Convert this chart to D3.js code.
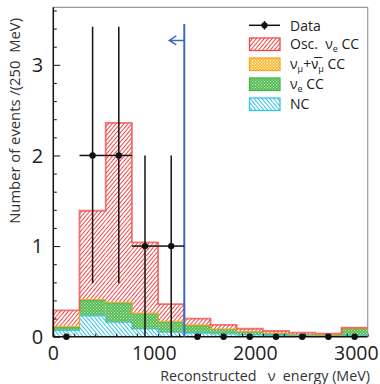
<!DOCTYPE html>
<html>
<head>
<meta charset="utf-8">
<script src="https://cdn.jsdelivr.net/npm/d3@7"></script>
<style>
  body { margin: 0; background: #fff; }
  svg { display: block; font-family: "Open Sans", sans-serif; }
</style>
</head>
<body>
<svg id="chart" width="380" height="384"></svg>
<script>
// bin lower edges (MeV), 250 MeV wide
const binEdges = [0, 250, 500, 750, 1000, 1250, 1500, 1750, 2000, 2250, 2500, 2750];
const binWidth = 250;
// stacked MC components, bottom to top
const ncValues    = [0.07, 0.23, 0.16, 0.085, 0.05, 0.04, 0.03, 0.02, 0.015, 0.01, 0.01, 0.01];
const veCCValues  = [0.03, 0.17, 0.21, 0.165, 0.11, 0.08, 0.05, 0.03, 0.02, 0.015, 0.008, 0.078];
const numuValues  = [0.015, 0.01, 0.01, 0.01, 0.01, 0.01, 0.005, 0.005, 0.003, 0.002, 0.002, 0.005];
const oscValues   = [0.175, 0.98, 1.98, 0.78, 0.19, 0.07, 0.045, 0.033, 0.025, 0.018, 0.015, 0.007];
// observed data with asymmetric errors
const dataCounts  = [0, 2, 2, 1, 1, 0, 0, 0, 0, 0, 0, 0];
const dataLow     = [0, 0.59, 0.59, 0, 0, 0, 0, 0, 0, 0, 0, 0];
const dataHigh    = [0, 3.42, 3.42, 2, 2, 0, 0, 0, 0, 0, 0, 0];
const xTicks = [0, 1000, 2000, 3000];
const yTicks = [0, 1, 2, 3];
const cutEnergy = 1250;

const layers = [
  {key: "nc", fill: "url(#hatchCyan)", line: "#35c3e6"},
  {key: "veCC", fill: "url(#dotGreen)", line: "#47b547"},
  {key: "numu", fill: "url(#dotOrange)", line: "#f5a623"},
  {key: "osc", fill: "url(#hatchRed)", line: "#f04848"}
];

const svg = d3.select("#chart");
const margin = {top: 7.3, right: 12.3, bottom: 47.3, left: 53.3};
const W = 380, H = 384;

const x = d3.scaleLinear().domain([0, 3000]).range([margin.left, W - margin.right]);
const y = d3.scaleLinear().domain([0, 3.635]).range([H - margin.bottom, margin.top]);

// fill patterns
const defs = svg.append("defs");
function hatch(id, color, angle) {
  const p = defs.append("pattern").attr("id", id).attr("patternUnits", "userSpaceOnUse")
    .attr("width", 3).attr("height", 3).attr("patternTransform", `rotate(${angle})`);
  p.append("rect").attr("width", 3).attr("height", 3).attr("fill", "#fff");
  p.append("rect").attr("x", 0).attr("width", 1).attr("height", 3).attr("fill", color);
}
function dots(id, color, bg) {
  const p = defs.append("pattern").attr("id", id).attr("patternUnits", "userSpaceOnUse")
    .attr("width", 3).attr("height", 3);
  p.append("rect").attr("width", 3).attr("height", 3).attr("fill", color);
  p.append("rect").attr("x", 0).attr("y", 0).attr("width", 1.2).attr("height", 1.2).attr("fill", bg);
  p.append("rect").attr("x", 1.5).attr("y", 1.5).attr("width", 1.2).attr("height", 1.2).attr("fill", bg);
}
hatch("hatchRed", "#f04848", 40);
hatch("hatchCyan", "#35c3e6", -40);
dots("dotGreen", "#47b547", "#c8ecc0");
dots("dotOrange", "#f7b733", "#fff3d0");

// stacked rows
const rows = binEdges.map((e, i) => ({
  x0: e, nc: ncValues[i], veCC: veCCValues[i], numu: numuValues[i], osc: oscValues[i]
}));
const stacked = d3.stack().keys(layers.map(l => l.key))(rows);

stacked.forEach((s, li) => {
  const L = layers[li];
  svg.append("g").selectAll("rect").data(s).join("rect")
    .attr("x", d => x(d.data.x0))
    .attr("width", x(binWidth) - x(0))
    .attr("y", d => y(d[1]))
    .attr("height", d => y(d[0]) - y(d[1]))
    .attr("fill", L.fill);
});

// top outlines for each layer (step lines)
const step = d3.line().curve(d3.curveStepAfter).x(d => x(d[0])).y(d => y(d[1]));
stacked.forEach((s, li) => {
  const L = layers[li];
  const pts = s.map(d => [d.data.x0, d[1]]);
  pts.push([3000, s[s.length - 1][1]]);
  pts.unshift([0, 0]);
  svg.append("path").attr("d", step(pts)).attr("fill", "none")
    .attr("stroke", L.line)
    .attr("stroke-width", L.key === "osc" ? 1.8 : 1.1)
    .attr("stroke-opacity", L.key === "osc" ? 0.75 : 0.9);
});

// axes
const axisColor = "#111";
const yAxis = svg.append("g").attr("transform", `translate(${margin.left},0)`)
  .call(d3.axisRight(y).tickValues(d3.range(0, 3.61, 0.2)).tickSize(3.5).tickFormat(""));
yAxis.selectAll(".tick line").attr("stroke", axisColor).attr("stroke-width", 1)
  .attr("x2", d => Math.abs(d - Math.round(d)) < 1e-6 ? 7 : 3.5);
yAxis.select(".domain").remove();

svg.append("g").selectAll("text").data(yTicks).join("text")
  .attr("x", margin.left - 10).attr("y", d => y(d)).attr("dy", "0.36em")
  .attr("text-anchor", "end").attr("font-size", 20).attr("fill", "#222")
  .text(d => d);

const xAxis = svg.append("g").attr("transform", `translate(0,${y(0)})`)
  .call(d3.axisTop(x).tickValues(d3.range(0, 3001, 200)).tickSize(3).tickFormat(""));
xAxis.selectAll(".tick line").attr("stroke", axisColor).attr("stroke-width", 1);
xAxis.select(".domain").remove();

svg.append("g").selectAll("text").data(xTicks).join("text")
  .attr("x", d => x(d) - d / 1000 * 3.8).attr("y", y(0) + 23.5)
  .attr("text-anchor", "middle").attr("font-size", 19.5).attr("fill", "#222")
  .text(d => d);

// frame
svg.append("line").attr("x1", margin.left).attr("x2", W - margin.right)
  .attr("y1", margin.top).attr("y2", margin.top).attr("stroke", "#999").attr("stroke-width", 1.2);
svg.append("line").attr("x1", W - margin.right).attr("x2", W - margin.right)
  .attr("y1", margin.top).attr("y2", y(0)).attr("stroke", "#999").attr("stroke-width", 1.2);
svg.append("line").attr("x1", margin.left).attr("x2", margin.left)
  .attr("y1", margin.top).attr("y2", y(0)).attr("stroke", axisColor).attr("stroke-width", 1.5);
svg.append("line").attr("x1", margin.left).attr("x2", W - margin.right)
  .attr("y1", y(0)).attr("y2", y(0)).attr("stroke", axisColor).attr("stroke-width", 1.5);

// axis titles
svg.append("text").attr("x", W - 10).attr("y", 381).attr("text-anchor", "end")
  .attr("font-size", 14.3).attr("fill", "#333").attr("xml:space", "preserve")
  .text("Reconstructed   \u03bd  energy (MeV)");
svg.append("text").attr("transform", `translate(20,18) rotate(-90)`).attr("text-anchor", "end")
  .attr("font-size", 14.8).attr("fill", "#333").attr("xml:space", "preserve")
  .text("Number of events /(250  MeV)");

// cut line with arrow
const cutColor = "#3a6cc0";
svg.append("line").attr("x1", x(cutEnergy)).attr("x2", x(cutEnergy))
  .attr("y1", y(3.45)).attr("y2", y(0)).attr("stroke", cutColor).attr("stroke-width", 2);
const ay = y(3.27), ax = x(cutEnergy);
svg.append("path").attr("d", `M${ax},${ay} H${ax - 15} M${ax - 8},${ay - 4.5} L${ax - 15},${ay} L${ax - 8},${ay + 4.5}`)
  .attr("fill", "none").attr("stroke", cutColor).attr("stroke-width", 1.5);

// data points
const pts = binEdges.map((e, i) => ({c: e + binWidth / 2, n: dataCounts[i], lo: dataLow[i], hi: dataHigh[i]}));
const dg = svg.append("g");
dg.selectAll(".ev").data(pts.filter(d => d.n > 0)).join("line")
  .attr("x1", d => x(d.c)).attr("x2", d => x(d.c))
  .attr("y1", d => y(d.lo)).attr("y2", d => y(d.hi))
  .attr("stroke", "#111").attr("stroke-width", 1.5);
dg.selectAll(".eh").data(pts.filter(d => d.n > 0)).join("line")
  .attr("x1", d => x(d.c - binWidth / 2)).attr("x2", d => x(d.c + binWidth / 2))
  .attr("y1", d => y(d.n)).attr("y2", d => y(d.n))
  .attr("stroke", "#111").attr("stroke-width", 1.5);
dg.selectAll("circle").data(pts).join("circle")
  .attr("cx", d => x(d.c)).attr("cy", d => y(d.n)).attr("r", 3.2).attr("fill", "#111");

// legend
const lg = svg.append("g").attr("transform", "translate(249,0)");
lg.append("line").attr("x1", 0).attr("x2", 31).attr("y1", 25.3).attr("y2", 25.3).attr("stroke", "#111").attr("stroke-width", 1.5);
lg.append("line").attr("x1", 15.5).attr("x2", 15.5).attr("y1", 21).attr("y2", 29.6).attr("stroke", "#111").attr("stroke-width", 1.5);
lg.append("circle").attr("cx", 15.5).attr("cy", 25.3).attr("r", 3.1).attr("fill", "#111");
lg.append("text").attr("x", 41).attr("y", 30.5).attr("font-size", 14).attr("fill", "#222").text("Data");

const legendItems = [layers[3], layers[2], layers[1], layers[0]];
legendItems.forEach((L, i) => {
  const ty = 38 + i * 20;
  lg.append("rect").attr("x", 0.5).attr("y", ty).attr("width", 30.5).attr("height", 12.5)
    .attr("fill", L.fill).attr("stroke", L.line).attr("stroke-width", 1.3);
  const t = lg.append("text").attr("x", 41).attr("y", ty + 11).attr("font-size", 14).attr("fill", "#222")
    .attr("xml:space", "preserve");
  if (L.key === "osc") {
    t.append("tspan").text("Osc.  \u03bd");
    t.append("tspan").attr("font-size", 9).attr("dy", 3).text("e");
    t.append("tspan").attr("dy", -3).text(" CC");
  } else if (L.key === "numu") {
    t.append("tspan").text("\u03bd");
    t.append("tspan").attr("font-size", 9).attr("dy", 3).text("\u03bc");
    t.append("tspan").attr("dy", -3).text("+\u03bd\u0305");
    t.append("tspan").attr("font-size", 9).attr("dy", 3).text("\u03bc");
    t.append("tspan").attr("dy", -3).text(" CC");
  } else if (L.key === "veCC") {
    t.append("tspan").text("\u03bd");
    t.append("tspan").attr("font-size", 9).attr("dy", 3).text("e");
    t.append("tspan").attr("dy", -3).text(" CC");
  } else {
    t.text("NC");
  }
});
</script>
</body>
</html>
